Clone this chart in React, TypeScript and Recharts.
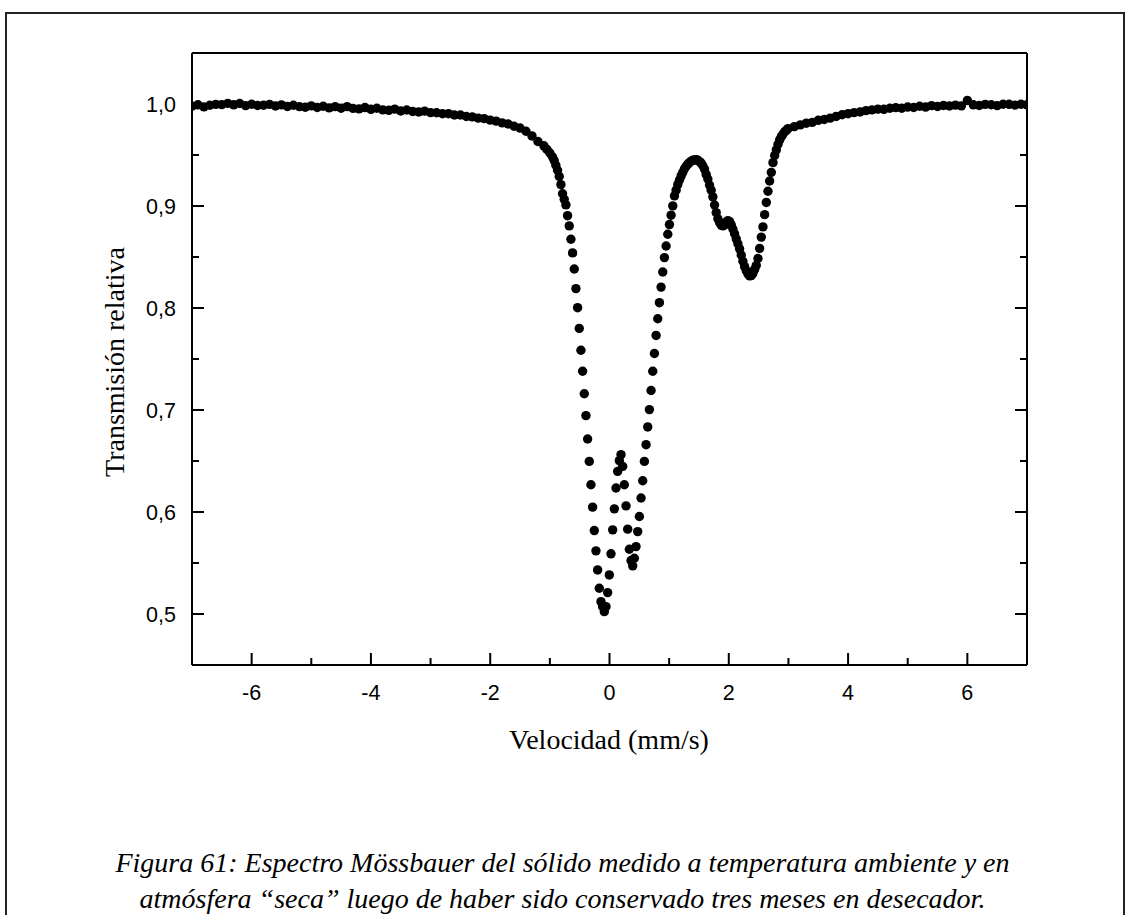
import { ScatterChart, Scatter, XAxis, YAxis } from 'recharts'

// Velocity channels (mm/s) and relative transmission
const velocity = [
  -7.0, -6.9, -6.8, -6.7, -6.6, -6.5, -6.4, -6.3, -6.2, -6.1,
  -6.0, -5.9, -5.8, -5.7, -5.6, -5.5, -5.4, -5.3, -5.2, -5.1,
  -5.0, -4.9, -4.8, -4.7, -4.6, -4.5, -4.4, -4.3, -4.2, -4.1,
  -4.0, -3.9, -3.8, -3.7, -3.6, -3.5, -3.4, -3.3, -3.2, -3.1,
  -3.0, -2.9, -2.8, -2.7, -2.6, -2.5, -2.4, -2.3, -2.2, -2.1,
  -2.0, -1.9, -1.8, -1.7, -1.6, -1.5, -1.4, -1.3, -1.2, -1.1,
  -1.05, -1.0, -0.955, -0.927, -0.899, -0.871, -0.843, -0.815, -0.787, -0.759,
  -0.731, -0.703, -0.675, -0.647, -0.619, -0.591, -0.563, -0.535, -0.507, -0.479,
  -0.451, -0.423, -0.395, -0.367, -0.339, -0.311, -0.283, -0.255, -0.227, -0.199,
  -0.171, -0.143, -0.115, -0.087, -0.059, -0.031, -0.003, 0.025, 0.053, 0.081,
  0.109, 0.137, 0.165, 0.193, 0.221, 0.249, 0.277, 0.305, 0.333, 0.361,
  0.389, 0.417, 0.445, 0.473, 0.501, 0.529, 0.557, 0.585, 0.613, 0.641,
  0.669, 0.697, 0.725, 0.753, 0.781, 0.809, 0.837, 0.865, 0.893, 0.921,
  0.949, 0.977, 1.005, 1.033, 1.061, 1.089, 1.117, 1.145, 1.173, 1.201,
  1.229, 1.257, 1.285, 1.313, 1.341, 1.369, 1.397, 1.425, 1.453, 1.481,
  1.509, 1.537, 1.565, 1.593, 1.621, 1.649, 1.677, 1.705, 1.733, 1.761,
  1.789, 1.817, 1.845, 1.873, 1.901, 1.929, 1.957, 1.985, 2.013, 2.041,
  2.069, 2.097, 2.125, 2.153, 2.181, 2.209, 2.237, 2.265, 2.293, 2.321,
  2.349, 2.377, 2.405, 2.433, 2.461, 2.489, 2.517, 2.545, 2.573, 2.601,
  2.629, 2.657, 2.685, 2.713, 2.741, 2.769, 2.797, 2.825, 2.853, 2.881,
  2.909, 2.937, 2.965, 2.993, 3.1, 3.2, 3.3, 3.4, 3.5, 3.6,
  3.7, 3.8, 3.9, 4.0, 4.1, 4.2, 4.3, 4.4, 4.5, 4.6,
  4.7, 4.8, 4.9, 5.0, 5.1, 5.2, 5.3, 5.4, 5.5, 5.6,
  5.7, 5.8, 5.9, 6.0, 6.1, 6.2, 6.3, 6.4, 6.5, 6.6,
  6.7, 6.8, 6.9, 7.0,
]

const transmission = [
  0.9978, 0.9992, 0.9972, 0.9988, 0.9996, 0.9994, 1.0006, 0.9992, 1.0005, 0.9984,
  0.9998, 0.9986, 0.9988, 0.9996, 0.998, 0.9991, 0.9976, 0.9988, 0.9974, 0.9968,
  0.9982, 0.9966, 0.9978, 0.9962, 0.9974, 0.9958, 0.9974, 0.9957, 0.9952, 0.9965,
  0.9948, 0.9958, 0.9942, 0.9938, 0.995, 0.9932, 0.9941, 0.9927, 0.9922, 0.993,
  0.9915, 0.9914, 0.9904, 0.9905, 0.9892, 0.9892, 0.9877, 0.9874, 0.9862, 0.9857,
  0.9842, 0.9832, 0.9815, 0.9804, 0.9782, 0.9764, 0.9733, 0.9687, 0.9632, 0.959,
  0.9555, 0.952, 0.948, 0.9445, 0.94, 0.935, 0.929, 0.921, 0.912, 0.9065,
  0.9011, 0.8905, 0.8805, 0.8674, 0.854, 0.8382, 0.819, 0.8003, 0.78, 0.7586,
  0.738, 0.7159, 0.6945, 0.6716, 0.6496, 0.6267, 0.6048, 0.5818, 0.5619, 0.5432,
  0.5252, 0.5121, 0.5072, 0.5023, 0.5072, 0.521, 0.5383, 0.559, 0.5825, 0.6031,
  0.6235, 0.6398, 0.6503, 0.6562, 0.6447, 0.6267, 0.606, 0.5832, 0.5635, 0.5524,
  0.5472, 0.5547, 0.5661, 0.5808, 0.5956, 0.6137, 0.6306, 0.6496, 0.666, 0.6834,
  0.7004, 0.7191, 0.738, 0.7554, 0.7731, 0.7895, 0.8052, 0.8205, 0.8353, 0.8494,
  0.8608, 0.8723, 0.8818, 0.891, 0.9001, 0.9099, 0.9155, 0.921, 0.9255, 0.9295,
  0.933, 0.9365, 0.939, 0.941, 0.9425, 0.944, 0.9448, 0.9452, 0.9455, 0.9448,
  0.9435, 0.942, 0.9395, 0.9362, 0.931, 0.9265, 0.9205, 0.9155, 0.909, 0.901,
  0.8935, 0.8875, 0.8838, 0.8812, 0.8805, 0.8815, 0.8842, 0.8856, 0.8848, 0.8815,
  0.8775, 0.8728, 0.8678, 0.863, 0.858, 0.852, 0.8458, 0.8405, 0.8365, 0.8335,
  0.8315, 0.8318, 0.834, 0.8378, 0.8418, 0.8485, 0.8585, 0.8695, 0.8795, 0.8915,
  0.9035, 0.9145, 0.9245, 0.933, 0.9425, 0.9495, 0.955, 0.9605, 0.9648, 0.968,
  0.9705, 0.9728, 0.9742, 0.9758, 0.9778, 0.9795, 0.9812, 0.982, 0.984, 0.9848,
  0.9862, 0.9878, 0.9895, 0.9905, 0.9915, 0.9922, 0.9935, 0.9942, 0.995, 0.9948,
  0.9958, 0.9964, 0.9958, 0.997, 0.9966, 0.9978, 0.997, 0.9984, 0.9975, 0.9986,
  0.998, 0.9989, 0.9982, 1.0035, 0.9992, 0.9985, 0.9996, 0.9993, 0.9984, 0.9998,
  0.9997, 0.9989, 0.9998, 0.9992,
]

const xTicks = [-6, -5, -4, -3, -2, -1, 0, 1, 2, 3, 4, 5, 6]
const yTicks = [0.5, 0.55, 0.6, 0.65, 0.7, 0.75, 0.8, 0.85, 0.9, 0.95, 1.0]

const xTitle = 'Velocidad (mm/s)'
const yTitle = 'Transmisión relativa'
const captionLines = [
  'Figura 61: Espectro Mössbauer del sólido medido a temperatura ambiente y en',
  'atmósfera “seca” luego de haber sido conservado tres meses en desecador.',
]

const data = velocity.map((v, i) => ({ v, t: transmission[i] }))

const sans = '"Liberation Sans", Arial, sans-serif'
const serif = '"Liberation Serif", "Times New Roman", serif'

const isMajorY = (v: number) => Math.round(v * 100) % 10 === 0

const BottomTick = ({ x, y, payload }: any) => {
  const major = payload.value % 2 === 0
  return (
    <g>
      <line x1={x} y1={y} x2={x} y2={y - (major ? 12 : 7)} stroke="#000" strokeWidth={2} />
      {major && (
        <text x={x} y={y + 35} textAnchor="middle" fontFamily={sans} fontSize={21.5} fill="#000">
          {payload.value}
        </text>
      )}
    </g>
  )
}

const TopTick = ({ x, y, payload }: any) => {
  const major = payload.value % 2 === 0
  return <line x1={x} y1={y} x2={x} y2={y + (major ? 12 : 7)} stroke="#000" strokeWidth={2} />
}

const LeftTick = ({ x, y, payload }: any) => {
  const major = isMajorY(payload.value)
  return (
    <g>
      <line x1={x} y1={y} x2={x + (major ? 12 : 7)} y2={y} stroke="#000" strokeWidth={2} />
      {major && (
        <text x={x - 16} y={y + 7.5} textAnchor="end" fontFamily={sans} fontSize={21.5} fill="#000">
          {payload.value.toFixed(1).replace('.', ',')}
        </text>
      )}
    </g>
  )
}

const RightTick = ({ x, y, payload }: any) => {
  const major = isMajorY(payload.value)
  return <line x1={x} y1={y} x2={x - (major ? 12 : 7)} y2={y} stroke="#000" strokeWidth={2} />
}

const Dot = (p: any) => <circle cx={p.cx} cy={p.cy} r={4.7} fill="#000" />

export default function App() {
  return (
    <div style={{ position: 'absolute', left: 0, top: 0, width: 1125, height: 915, overflow: 'hidden', background: '#fff' }}>
      <div
        style={{
          position: 'absolute', left: 5, top: 12, width: 1116, height: 901,
          borderTop: '2px solid #222', borderLeft: '2px solid #222', borderRight: '2px solid #222',
        }}
      />
      <div style={{ position: 'absolute', left: 0, top: 0 }}>
        <ScatterChart width={1125} height={915} margin={{ top: 43, right: 88, bottom: 220, left: 132 }}>
          <XAxis
            dataKey="v"
            type="number"
            domain={[-7, 7]}
            ticks={xTicks}
            interval={0}
            height={30}
            tickSize={0}
            tickMargin={0}
            tick={<BottomTick />}
            axisLine={{ stroke: '#000', strokeWidth: 2 }}
            allowDataOverflow
          />
          <XAxis
            xAxisId="top"
            orientation="top"
            type="number"
            domain={[-7, 7]}
            ticks={xTicks}
            interval={0}
            height={10}
            tickSize={0}
            tickMargin={0}
            tick={<TopTick />}
            axisLine={{ stroke: '#000', strokeWidth: 2 }}
            allowDataOverflow
          />
          <YAxis
            dataKey="t"
            type="number"
            domain={[0.45, 1.05]}
            ticks={yTicks}
            interval={0}
            width={60}
            tickSize={0}
            tickMargin={0}
            tick={<LeftTick />}
            axisLine={{ stroke: '#000', strokeWidth: 2 }}
            allowDataOverflow
          />
          <YAxis
            yAxisId="right"
            orientation="right"
            type="number"
            domain={[0.45, 1.05]}
            ticks={yTicks}
            interval={0}
            width={10}
            tickSize={0}
            tickMargin={0}
            tick={<RightTick />}
            axisLine={{ stroke: '#000', strokeWidth: 2 }}
            allowDataOverflow
          />
          <Scatter data={data} shape={Dot} isAnimationActive={false} />
        </ScatterChart>
      </div>
      <div
        style={{
          position: 'absolute', left: 115, top: 362, transform: 'translate(-50%, -50%) rotate(-90deg)',
          fontFamily: serif, fontSize: 28, whiteSpace: 'nowrap', color: '#000',
        }}
      >
        {yTitle}
      </div>
      <div
        style={{
          position: 'absolute', left: 609, top: 740, transform: 'translate(-50%, -50%)',
          fontFamily: serif, fontSize: 28, whiteSpace: 'nowrap', color: '#000',
        }}
      >
        {xTitle}
      </div>
      <div
        style={{
          position: 'absolute', left: 0, width: 1125, top: 845, textAlign: 'center',
          fontFamily: serif, fontStyle: 'italic', fontSize: 28, lineHeight: '36px', color: '#000',
        }}
      >
        {captionLines.map((l) => (
          <div key={l}>{l}</div>
        ))}
      </div>
    </div>
  )
}
